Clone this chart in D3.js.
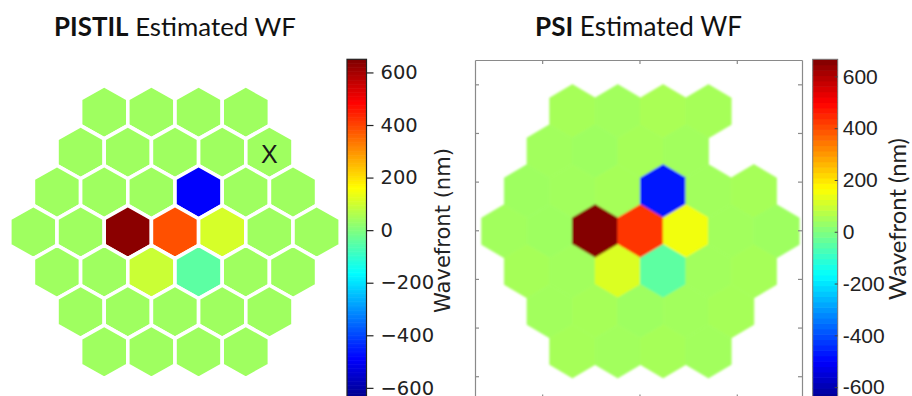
<!DOCTYPE html>
<html><head><meta charset="utf-8">
<script src="https://cdn.jsdelivr.net/npm/d3@7"></script>
<style>html,body{margin:0;padding:0;background:#fff;overflow:hidden}</style>
</head><body>
<svg id="c" width="912" height="396"></svg>
<script>
// ---------------- data ----------------
const rowCounts = [4, 5, 6, 7, 6, 5, 4];          // segments per row (top to bottom)
// PISTIL estimated wavefront per segment (nm), row-major
const pistilWF = [
  40, 40, 40, 40,
  40, 40, 40, 40, 40,
  40, 40, 40, -490, 40, 40,
  40, 40, 635, 385, 110, 40, 40,
  40, 40, 95, -45, 40, 40,
  40, 40, 40, 40, 40,
  40, 40, 40, 40
];
// PSI estimated wavefront per segment (nm), null = missing segment
const psiWF = [
  50, 45, 55, 50,
  45, 40, 50, 45, null,
  40, 45, 50, -470, 45, 50,
  45, 40, 660, 430, 150, 45, 40,
  50, 45, 120, -45, 45, 50,
  45, 50, 40, 45, 50,
  50, 45, 50, 45
];
const markedSegment = 8;       // segment marked with "X"
const markLabel = "X";
const cbTicks = [-600, -400, -200, 0, 200, 400, 600];
const pistilLimits = [-650, 650];
const psiLimits = [-666, 666];
const psiXTicks = [50, 100, 150];
const psiYTicks = [25, 50, 75, 100, 125, 150, 175];
const titles = [["PISTIL", " Estimated WF"], ["PSI", " Estimated WF"]];
const cbLabel = "Wavefront (nm)";

// ---------------- helpers ----------------
function jet(t) {
  t = Math.max(0, Math.min(1, t));
  const f = x => Math.max(0, Math.min(1, x));
  return d3.rgb(255 * f(1.5 - Math.abs(4 * t - 3)),
                255 * f(1.5 - Math.abs(4 * t - 2)),
                255 * f(1.5 - Math.abs(4 * t - 1))).formatHex();
}
const colL = d3.scaleSequential(jet).domain(pistilLimits);
const colR = d3.scaleSequential(jet).domain(psiLimits);

// segments (col,row) in hex units
const segments = [];
rowCounts.forEach((n, r) => {
  for (let k = 0; k < n; k++) segments.push({col: k - (n - 1) / 2, row: r - 3});
});
const hexUnit = [[0, -2/3], [0.5, -1/3], [0.5, 1/3], [0, 2/3], [-0.5, 1/3], [-0.5, -1/3]];

const svg = d3.select("#c");
svg.append("rect").attr("width", 912).attr("height", 396).attr("fill", "#fff");

function fitText(sel, target) {
  const w = sel.node().getBBox().width;
  const fs = parseFloat(sel.attr("font-size"));
  sel.attr("font-size", fs * target / w);
}

// ---------------- titles ----------------
[[175, 242], [638.5, 207]].forEach(([cx, w], i) => {
  const t = svg.append("text").attr("x", cx).attr("y", 36)
    .attr("text-anchor", "middle").attr("font-family", "Lato, 'Open Sans', sans-serif")
    .attr("font-size", 26).attr("fill", "#111");
  t.append("tspan").attr("font-weight", "bold").text(titles[i][0]);
  t.append("tspan").text(titles[i][1]);
  fitText(t, w);
});

// ---------------- left panel (PISTIL) ----------------
const xL = d3.scaleLinear().domain([-3, 3]).range([175 - 3 * 47.2, 175 + 3 * 47.2]);
const yL = d3.scaleLinear().domain([-3, 3]).range([232 - 3 * 39.9, 232 + 3 * 39.9]);
const line = d3.line();
const gL = svg.append("g");
gL.selectAll("path").data(segments.map((s, i) => ({...s, v: pistilWF[i]})))
  .join("path")
  .attr("d", d => line(hexUnit.map(([dx, dy]) => [xL(d.col + dx), yL(d.row + dy)])) + "Z")
  .attr("fill", d => colL(d.v))
  .attr("stroke", "#fff").attr("stroke-width", 3.6).attr("stroke-linejoin", "round");
const ms = segments[markedSegment];
gL.append("text").attr("x", xL(ms.col)).attr("y", yL(ms.row) + 4)
  .attr("text-anchor", "middle").attr("dominant-baseline", "middle")
  .attr("font-family", "'Liberation Sans', Arial, sans-serif").attr("font-size", 25)
  .attr("fill", "#1a1a1a").text(markLabel);

// ---------------- left colorbar (matplotlib style) ----------------
const yCBL = d3.scaleLinear().domain(pistilLimits).range([401, 59.3]);
const cbL = svg.append("g");
const nL = 260;
const stepL = (pistilLimits[1] - pistilLimits[0]) / nL;
cbL.selectAll("rect").data(d3.range(nL)).join("rect")
  .attr("x", 347).attr("width", 19.5)
  .attr("y", i => yCBL(pistilLimits[0] + (i + 1) * stepL))
  .attr("height", i => yCBL(pistilLimits[0] + i * stepL) - yCBL(pistilLimits[0] + (i + 1) * stepL) + 0.6)
  .attr("fill", i => colL(pistilLimits[0] + (i + 0.5) * stepL));
cbL.append("rect").attr("x", 347).attr("y", 59.3).attr("width", 19.5).attr("height", 401 - 59.3)
  .attr("fill", "none").attr("stroke", "#222").attr("stroke-width", 1.2);
const axL = svg.append("g").attr("transform", "translate(366.5,0)")
  .call(d3.axisRight(yCBL).tickValues(cbTicks).tickSize(7).tickPadding(7)
    .tickFormat(d => d < 0 ? "\u2212" + Math.abs(d) : String(d)));
axL.select(".domain").remove();
axL.selectAll("line").attr("stroke", "#222").attr("stroke-width", 1.2);
axL.selectAll("text").attr("font-family", "'DejaVu Sans', sans-serif").attr("font-size", 19.5)
  .attr("fill", "#222");
const lblL = svg.append("text").attr("transform", "translate(450,230.5) rotate(-90)")
  .attr("text-anchor", "middle").attr("font-family", "'DejaVu Sans', sans-serif")
  .attr("font-size", 20).attr("fill", "#222").text(cbLabel);
fitText(lblL, 165);

// ---------------- right panel (PSI) ----------------
const xR = d3.scaleLinear().domain([15.5, 183.5]).range([475, 802]);
const yR = d3.scaleLinear().domain([12.5, 186.5]).range([60, 398.6]);
const defs = svg.append("defs");
defs.append("clipPath").attr("id", "clipR").append("rect")
  .attr("x", 475).attr("y", 60).attr("width", 327).attr("height", 338.6);
defs.append("filter").attr("id", "soft").attr("x", "-5%").attr("y", "-5%")
  .attr("width", "110%").attr("height", "110%")
  .append("feGaussianBlur").attr("stdDeviation", 0.9);
const cxR = 100.5, cyR = 100.5, pitchX = 23.3, pitchY = 20.55;
const gR = svg.append("g").attr("clip-path", "url(#clipR)").append("g").attr("filter", "url(#soft)");
gR.selectAll("path").data(segments.map((s, i) => ({...s, v: psiWF[i]})).filter(d => d.v !== null))
  .join("path")
  .attr("d", d => line(hexUnit.map(([dx, dy]) =>
      [xR(cxR + (d.col + dx) * pitchX), yR(cyR + (d.row + dy) * pitchY)])) + "Z")
  .attr("fill", d => colR(d.v)).attr("stroke", d => colR(d.v)).attr("stroke-width", 0.8);
const frame = svg.append("g");
function styleAx(g) { g.selectAll("path,line").attr("stroke", "#8a8a8a").attr("stroke-width", 1.2); g.selectAll("text").remove(); }
frame.append("g").attr("transform", "translate(0,60)")
  .call(d3.axisTop(xR).tickValues(psiXTicks).tickSizeInner(-4).tickSizeOuter(0)).call(styleAx);
frame.append("g").attr("transform", "translate(0,398.6)")
  .call(d3.axisBottom(xR).tickValues(psiXTicks).tickSizeInner(-4).tickSizeOuter(0)).call(styleAx);
frame.append("g").attr("transform", "translate(475,0)")
  .call(d3.axisLeft(yR).tickValues(psiYTicks).tickSizeInner(-4).tickSizeOuter(0)).call(styleAx);
frame.append("g").attr("transform", "translate(802,0)")
  .call(d3.axisRight(yR).tickValues(psiYTicks).tickSizeInner(-4).tickSizeOuter(0)).call(styleAx);

// ---------------- right colorbar (MATLAB style, 64 bands) ----------------
const yCBR = d3.scaleLinear().domain(psiLimits).range([404.2, 59.3]);
const nR = 64;
const stepR = (psiLimits[1] - psiLimits[0]) / nR;
const cbR = svg.append("g");
cbR.selectAll("rect").data(d3.range(nR)).join("rect")
  .attr("x", 812.7).attr("width", 25)
  .attr("y", i => yCBR(psiLimits[0] + (i + 1) * stepR))
  .attr("height", i => yCBR(psiLimits[0] + i * stepR) - yCBR(psiLimits[0] + (i + 1) * stepR) + 0.6)
  .attr("fill", i => colR(psiLimits[0] + (i + 0.5) * stepR));
cbR.append("rect").attr("x", 812.7).attr("y", 59.3).attr("width", 25).attr("height", 404.2 - 59.3)
  .attr("fill", "none").attr("stroke", "#777").attr("stroke-width", 1);
const axR = svg.append("g").attr("transform", "translate(837.7,0)")
  .call(d3.axisRight(yCBR).tickValues(cbTicks).tickSizeInner(-3).tickPadding(7).tickSizeOuter(0)
    .tickFormat(d => String(d)));
axR.select(".domain").remove();
axR.selectAll("line").attr("stroke", "#444").attr("stroke-width", 1);
axR.selectAll("text").attr("font-family", "'Liberation Sans', Arial, sans-serif").attr("font-size", 21)
  .attr("fill", "#222").attr("x", 5);
const lblR = svg.append("text").attr("transform", "translate(906,219) rotate(-90)")
  .attr("text-anchor", "middle").attr("font-family", "Lato, 'Open Sans', sans-serif")
  .attr("font-size", 22).attr("fill", "#222").text(cbLabel);
fitText(lblR, 162);
</script>
</body></html>
